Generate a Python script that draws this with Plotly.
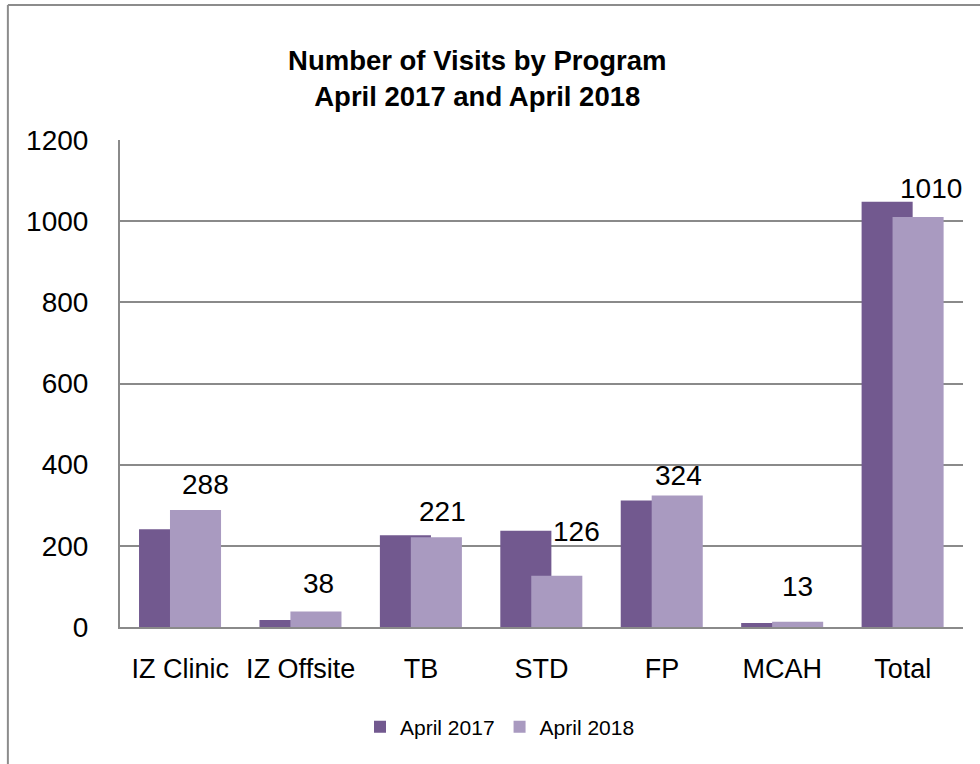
import plotly.graph_objects as go

# Visits per program, April 2017 vs April 2018
programs = ["IZ Clinic", "IZ Offsite", "TB", "STD", "FP", "MCAH", "Total"]
visits_2017 = [241, 17, 226, 237, 312, 10, 1048]
visits_2018 = [288, 38, 221, 126, 324, 13, 1010]
y_ticks = [0, 200, 400, 600, 800, 1000, 1200]

DARK = "rgb(114,89,143)"
LIGHT = "rgb(169,154,192)"
GRID = "#8a8a8a"
FONT = "Liberation Sans, Arial, sans-serif"

# overlapping bars: each bar is BAR_W category units wide,
# the 2018 bar sits slightly right of the 2017 bar and is drawn over it
BAR_W = 0.424
OFF_2017 = -0.342
OFF_2018 = -0.085

# label nudges (px) for the 2018 value labels
label_dx = [10, 3, 6, 20, 1, 0, 13]
label_dy = [26, 28, 26, 44, 20, 35, 29]

fig = go.Figure()
fig.add_trace(go.Bar(
    name="April 2017", x=programs, y=visits_2017,
    marker=dict(color=DARK, line=dict(width=0)),
    width=BAR_W, offset=OFF_2017,
))
fig.add_trace(go.Bar(
    name="April 2018", x=programs, y=visits_2018,
    marker=dict(color=LIGHT, line=dict(width=0)),
    width=BAR_W, offset=OFF_2018,
))

annotations = []
for i, v in enumerate(visits_2018):
    annotations.append(dict(
        x=i + OFF_2018 + BAR_W / 2, y=v, xref="x", yref="y",
        text=str(v), showarrow=False,
        xanchor="center", yanchor="middle",
        xshift=label_dx[i], yshift=label_dy[i],
        font=dict(family=FONT, size=28, color="#000000"),
    ))

# outer frame (top and left edges visible)
shapes = [
    dict(type="line", xref="paper", yref="paper",
         x0=-0.133, x1=1.03, y0=1.277, y1=1.277,
         line=dict(color="#8c8c8c", width=2)),
    dict(type="line", xref="paper", yref="paper",
         x0=-0.133, x1=-0.133, y0=1.277, y1=-0.3,
         line=dict(color="#8c8c8c", width=2)),
]

fig.update_layout(
    width=980, height=764,
    margin=dict(l=120, r=17, t=140, b=137),
    paper_bgcolor="white", plot_bgcolor="white",
    barmode="overlay",
    font=dict(family=FONT, color="#000000"),
    title=dict(
        text="<b>Number of Visits by Program<br>April 2017 and April 2018</b>",
        x=0.487, xanchor="center", xref="container",
        y=1 - 70 / 764, yanchor="top", yref="container",
        font=dict(family=FONT, size=27.5, color="#000000"),
    ),
    xaxis=dict(
        type="category", categoryorder="array", categoryarray=programs,
        range=[-0.5, len(programs) - 0.5],
        showgrid=False, ticks="", showline=True, linecolor=GRID, linewidth=2,
        tickfont=dict(family=FONT, size=27, color="#000000"),
        ticklabelstandoff=17,
    ),
    yaxis=dict(
        range=[0, 1200], tickvals=y_ticks, ticktext=[str(t) for t in y_ticks],
        showgrid=True, gridcolor=GRID, gridwidth=1.5,
        zeroline=False, ticks="", showline=True, linecolor=GRID, linewidth=2,
        tickfont=dict(family=FONT, size=28, color="#000000"),
        ticklabelstandoff=24,
    ),
    legend=dict(
        orientation="h", x=500 / 980, xanchor="center", xref="container",
        y=1 - 727 / 764, yanchor="middle", yref="container",
        font=dict(family=FONT, size=21, color="#000000"),
        itemwidth=30, traceorder="normal",
    ),
    annotations=annotations,
    shapes=shapes,
)

fig.write_html("out.html")
